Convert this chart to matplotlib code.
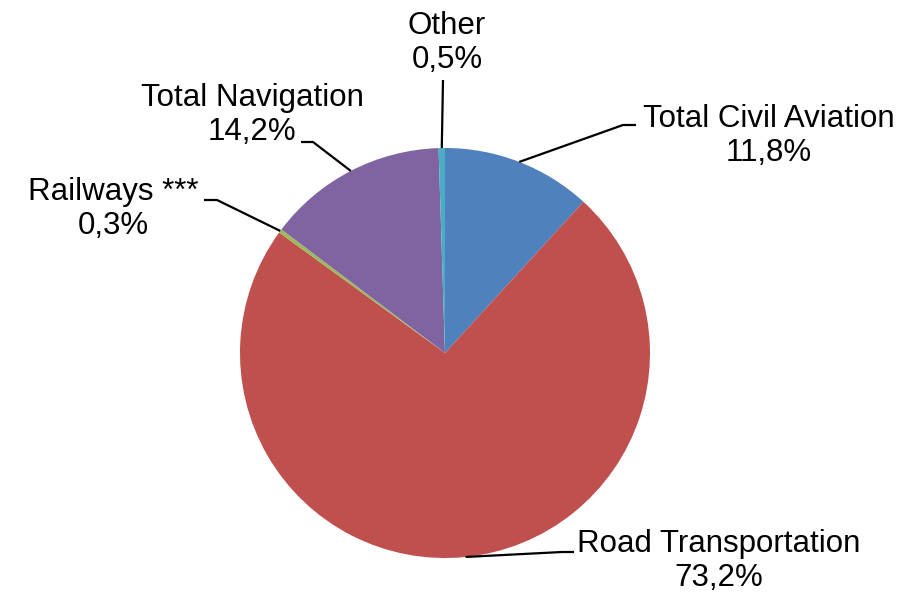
import numpy as np
import matplotlib
matplotlib.use("Agg")
import matplotlib.pyplot as plt

categories = ["Total Civil Aviation", "Road Transportation", "Railways ***",
              "Total Navigation", "Other"]
shares = [11.8, 73.2, 0.3, 14.2, 0.5]
share_labels = ["11,8%", "73,2%", "0,3%", "14,2%", "0,5%"]
colors = ["#4F81BD", "#C0504D", "#9BBB59", "#8064A2", "#4BACC6"]

W, H = 903, 593
CX, CY, R = 445, 353, 205

def px(x, y):
    return ((x - CX) / R, (CY - y) / R)

fig = plt.figure(figsize=(W / 100, H / 100), dpi=100)
ax = fig.add_axes([0, 0, 1, 1])
ax.set_xlim(px(0, 0)[0], px(W, 0)[0])
ax.set_ylim(px(0, H)[1], px(0, 0)[1])
ax.set_aspect("equal")
ax.axis("off")

wedges, _ = ax.pie(shares, colors=colors, startangle=90, counterclock=False,
                   radius=1, center=(0, 0), frame=True,
                   wedgeprops=dict(linewidth=0))
ax.set_xlim(px(0, 0)[0], px(W, 0)[0])
ax.set_ylim(px(0, H)[1], px(0, 0)[1])
ax.axis("off")

# label layout (pixel positions): text centre, leader start, elbow
layout = {
    "Total Civil Aviation": ((769, 136), [(636, 125), (623, 125)]),
    "Road Transportation": ((719, 561), [(574, 552), (562, 552)]),
    "Railways ***": ((113, 209), [(204, 200), (217, 200)]),
    "Total Navigation": ((252, 115), [(301, 142), (313, 142)]),
    "Other": ((447, 43), [(443, 80)]),
}

font = ["Liberation Sans", "DejaVu Sans"]
for w, cat, lab in zip(wedges, categories, share_labels):
    ang = np.deg2rad((w.theta1 + w.theta2) / 2)
    ex, ey = np.cos(ang), np.sin(ang)
    (tx, ty), pts = layout[cat]
    xs = [px(*p)[0] for p in pts] + [ex]
    ys = [px(*p)[1] for p in pts] + [ey]
    ax.plot(xs, ys, color="black", lw=1.6, solid_capstyle="butt")
    ax.text(*px(tx, ty), f"{cat}\n{lab}", ha="center", va="center",
            fontsize=22.5, family=font, linespacing=1.2, color="black")

fig.savefig("out.png", dpi=100)
